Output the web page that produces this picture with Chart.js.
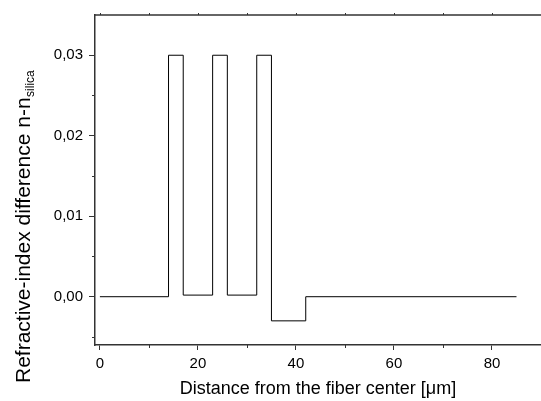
<!DOCTYPE html>
<html>
<head>
<meta charset="utf-8">
<script src="https://cdn.jsdelivr.net/npm/chart.js@4/dist/chart.umd.min.js"></script>
<style>
  html, body { margin: 0; padding: 0; background: #fff; overflow: hidden; }
  #wrap { width: 541px; height: 401px; }
</style>
</head>
<body>
<div id="wrap"><canvas id="c" width="541" height="401"></canvas></div>
<script>
// Layer boundaries (µm) and refractive-index difference starting at each boundary
const xPos  = [0, 14, 17, 23, 26, 32, 35, 42, 85];
const nDiff = [0, 0.03, 0.0002, 0.03, 0.0002, 0.03, -0.003, 0, 0];

const xMajorTicks = [0, 20, 40, 60, 80];
const xMinorTicks = [10, 30, 50, 70];
const yMajorTicks = [0, 0.01, 0.02, 0.03];
const yMinorTicks = [-0.005, 0.005, 0.015, 0.025];

const xTitle = 'Distance from the fiber center [\u03BCm]';
const yTitleMain = 'Refractive-index difference n-n';
const yTitleSub = 'silica';

const FONT = 'Arial, "Liberation Sans", Helvetica, sans-serif';
const AXIS_COLOR = '#333';

const framePlugin = {
  id: 'frame',
  afterDraw(chart) {
    const ctx = chart.ctx;
    const a = chart.chartArea;
    const xs = chart.scales.x, ys = chart.scales.y;
    ctx.save();
    ctx.strokeStyle = AXIS_COLOR;
    // top border
    ctx.lineWidth = 1.5;
    ctx.beginPath();
    ctx.moveTo(a.left - 0.75, a.top);
    ctx.lineTo(a.right, a.top);
    ctx.stroke();
    // minor ticks
    ctx.lineWidth = 1;
    ctx.beginPath();
    xMinorTicks.forEach(v => {
      const px = Math.round(xs.getPixelForValue(v)) + 0.5;
      ctx.moveTo(px, a.bottom); ctx.lineTo(px, a.bottom + 3);
    });
    yMinorTicks.forEach(v => {
      const py = Math.round(ys.getPixelForValue(v)) + 0.5;
      ctx.moveTo(a.left, py); ctx.lineTo(a.left - 3, py);
    });
    // small ticks on top border
    xMajorTicks.concat(xMinorTicks).forEach(v => {
      const px = Math.round(xs.getPixelForValue(v)) + 0.5;
      ctx.moveTo(px, a.top); ctx.lineTo(px, a.top - 2);
    });
    ctx.stroke();

    // x title
    ctx.fillStyle = '#000';
    ctx.font = '18px ' + FONT;
    ctx.textAlign = 'center';
    ctx.textBaseline = 'alphabetic';
    ctx.fillText(xTitle, (a.left + a.right) / 2, 394);

    // y title with subscript
    ctx.translate(30, 383);
    ctx.rotate(-Math.PI / 2);
    ctx.textAlign = 'left';
    ctx.font = '21px ' + FONT;
    ctx.fillText(yTitleMain, 0, 0);
    const w = ctx.measureText(yTitleMain).width;
    ctx.font = '12px ' + FONT;
    ctx.fillText(yTitleSub, w + 0.5, 4);
    ctx.restore();
  }
};

new Chart(document.getElementById('c'), {
  type: 'scatter',
  data: {
    datasets: [{
      data: xPos.map((x, i) => ({ x: x, y: nDiff[i] })),
      showLine: true,
      stepped: 'before',
      borderColor: '#000',
      borderWidth: 1,
      pointRadius: 0,
      fill: false
    }]
  },
  options: {
    responsive: false,
    animation: false,
    layout: { padding: { top: 13, right: 0, left: 0, bottom: 0 } },
    plugins: { legend: { display: false }, tooltip: { enabled: false } },
    scales: {
      x: {
        type: 'linear',
        min: -1,
        max: 90,
        afterBuildTicks: s => { s.ticks = xMajorTicks.map(v => ({ value: v })); },
        afterFit: s => { s.height = 56; },
        ticks: { font: { family: FONT, size: 15 }, color: '#000', padding: 5, maxRotation: 0, autoSkip: false },
        grid: { drawOnChartArea: false, drawTicks: true, tickLength: 5, tickColor: AXIS_COLOR, tickWidth: 1 },
        border: { color: AXIS_COLOR, width: 1.5 }
      },
      y: {
        type: 'linear',
        min: -0.006,
        max: 0.035,
        afterBuildTicks: s => { s.ticks = yMajorTicks.map(v => ({ value: v })); },
        afterFit: s => { s.width = 95; },
        ticks: {
          font: { family: FONT, size: 15 }, color: '#000', padding: 6, autoSkip: false,
          callback: v => v.toFixed(2).replace('.', ',')
        },
        grid: { drawOnChartArea: false, drawTicks: true, tickLength: 6, tickColor: AXIS_COLOR, tickWidth: 1 },
        border: { color: AXIS_COLOR, width: 1.5 }
      }
    }
  },
  plugins: [framePlugin]
});
</script>
</body>
</html>
